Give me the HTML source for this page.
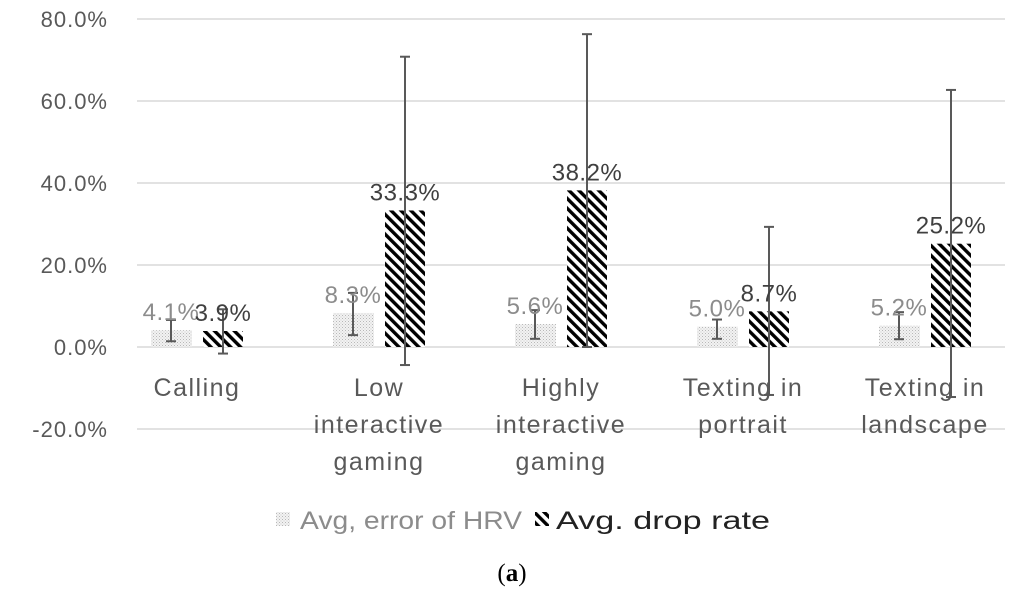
<!DOCTYPE html>
<html><head><meta charset="utf-8">
<style>
html,body{margin:0;padding:0;background:#fff;}
svg{display:block;font-family:"Liberation Sans",sans-serif;}
</style></head>
<body>
<svg id="chart" width="1024" height="600">
<defs>
<pattern id="dots" width="3" height="3" patternUnits="userSpaceOnUse">
<rect width="3" height="3" fill="#f2f2f2"/><rect width="1" height="1" fill="#b8b8b8"/><rect x="1.5" y="1.5" width="1" height="1" fill="#c8c8c8"/>
</pattern>
<pattern id="hatch" width="7" height="7" patternUnits="userSpaceOnUse" patternTransform="rotate(-45)">
<rect width="7" height="7" fill="#fff"/><rect width="3.4" height="7" fill="#000"/>
</pattern>
</defs>
<g id="grid"></g><g id="bars"></g><g id="errs"></g><g id="labels"></g>
<g>
<rect x="276" y="512" width="14" height="14" fill="url(#dots)"/>
<text x="300" y="529" font-size="25" textLength="222" lengthAdjust="spacingAndGlyphs" fill="#8c8c8c">Avg, error of HRV</text>
<rect x="535" y="512" width="14" height="14" fill="url(#hatch)"/>
<text x="556" y="529" font-size="25" textLength="214" lengthAdjust="spacingAndGlyphs" fill="#222">Avg. drop rate</text>
</g>
<text x="512" y="581" font-size="25" font-family="Liberation Serif,serif" text-anchor="middle" fill="#000">(<tspan font-weight="bold">a</tspan>)</text>
</svg>
<script>
const categories=[["Calling"],["Low","interactive","gaming"],["Highly","interactive","gaming"],["Texting in","portrait"],["Texting in","landscape"]];
const hrvValues=[4.1,8.3,5.6,5.0,5.2];
const hrvErrHigh=[6.6,13.2,9.0,6.7,8.5];
const hrvErrLow=[1.4,2.9,2.0,2.0,1.9];
const dropValues=[3.9,33.3,38.2,8.7,25.2];
const dropErrHigh=[9.2,70.8,76.3,29.3,62.7];
const dropErrLow=[-1.6,-4.4,0.0,-11.7,-12.2];
const yTicks=[-20,0,20,40,60,80];
const NS="http://www.w3.org/2000/svg";
const y=v=>347-v*4.1;
const cx=i=>196+i*182;
function mk(tag,attrs,parent,txt){const e=document.createElementNS(NS,tag);for(const k in attrs)e.setAttribute(k,attrs[k]);if(txt!==undefined)e.textContent=txt;document.getElementById(parent).appendChild(e);return e;}
yTicks.forEach(t=>{
 const l=mk('line',{x1:137,x2:1005,y1:y(t),y2:y(t),stroke:'#d9d9d9','stroke-width':1.5},'grid');
 
 
 const tx=mk('text',{x:108,y:y(t)+8,'font-size':22,'letter-spacing':1,'text-anchor':'end',fill:'#595959'},'grid',t.toFixed(1)+'%');
 
 
});
function err(x,hi,lo){
 const g=mk('g',{stroke:'#595959','stroke-width':2},'errs');
 
 
 const a=document.createElementNS(NS,'line');a.setAttribute('x1',x);a.setAttribute('x2',x);a.setAttribute('y1',y(hi));a.setAttribute('y2',y(lo));g.appendChild(a);
 [hi,lo].forEach(v=>{const c=document.createElementNS(NS,'line');c.setAttribute('x1',x-5);c.setAttribute('x2',x+5);c.setAttribute('y1',y(v));c.setAttribute('y2',y(v));g.appendChild(c);});
}
categories.forEach((c,i)=>{
 const x=cx(i);
 const b1=mk('rect',{x:x-45,y:y(hrvValues[i]),width:41,height:y(0)-y(hrvValues[i]),fill:'url(#dots)'},'bars');
 
 
 const b2=mk('rect',{x:x+7,y:y(dropValues[i]),width:40,height:y(0)-y(dropValues[i]),fill:'url(#hatch)'},'bars');
 
 
 err(x-25,hrvErrHigh[i],hrvErrLow[i]);
 err(x+27,dropErrHigh[i],dropErrLow[i]);
 const l1=mk('text',{x:x-25,y:y(hrvValues[i])-10,'font-size':24,'letter-spacing':0.5,'text-anchor':'middle',fill:'#8c8c8c'},'labels',hrvValues[i].toFixed(1)+'%');
 
 
 const l2=mk('text',{x:x+27,y:y(dropValues[i])-10,'font-size':24,'letter-spacing':0.5,'text-anchor':'middle',fill:'#404040'},'labels',dropValues[i].toFixed(1)+'%');
 
 
 c.forEach((ln,j)=>{
  const t=mk('text',{x:x+1,y:396+j*37,'font-size':25,'letter-spacing':1.5,'text-anchor':'middle',fill:'#595959'},'labels',ln);
  
  
 });
});
</script>
</body></html>
